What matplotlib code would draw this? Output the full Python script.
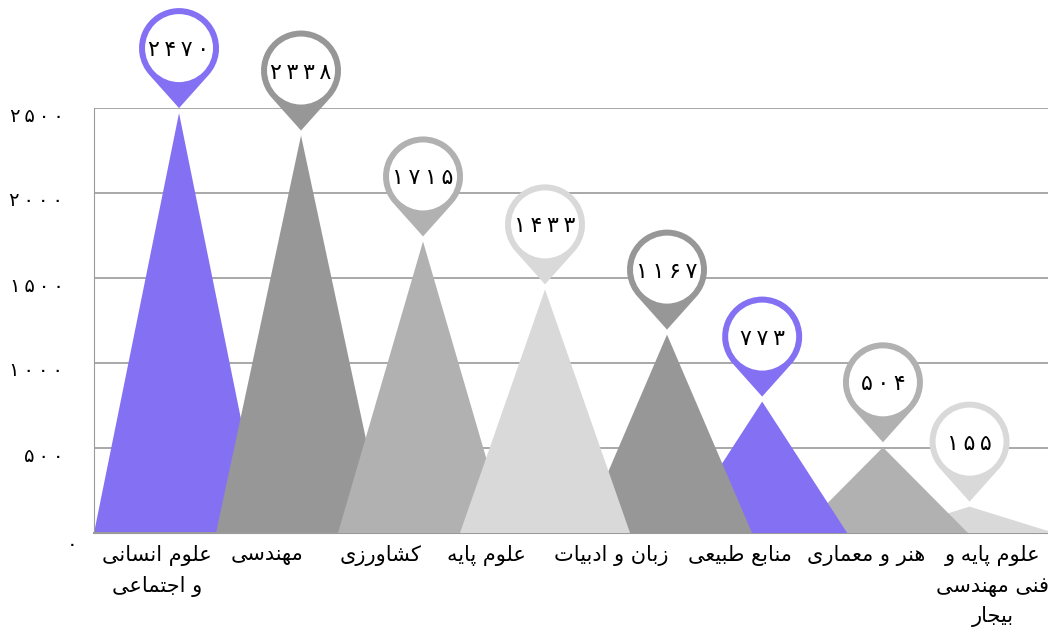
import matplotlib
matplotlib.use('Agg')
import matplotlib.pyplot as plt
import matplotlib.transforms as mtransforms
from matplotlib.path import Path
from matplotlib.patches import PathPatch, Polygon, Circle

# data
categories = ['علوم انسانی\nو اجتماعی', 'مهندسی', 'کشاورزی', 'علوم پایه',
              'زبان و ادبیات', 'منابع طبیعی', 'هنر و معماری',
              'علوم پایه و\nفنی مهندسی\nبیجار']
values = [2470, 2338, 1715, 1433, 1167, 773, 504, 155]
y_ticks = [0, 500, 1000, 1500, 2000, 2500]

# style / layout
purple, dark, mid, light = '#8470F3', '#979797', '#B1B1B1', '#D9D9D9'
colors = [purple, dark, mid, light, dark, purple, mid, light]
layers = [1, 2, 3, 8, 7, 6, 5, 4]
peak_shift = [0, 0, 0, 0, 0, -0.22, -0.23, -0.52]
label_shift = [-0.18, -0.28, -0.35, -0.48, -0.46, -0.40, -0.37, -0.33]
half_width = 0.697

# minimal persian shaping (matplotlib does no arabic joining / rtl)
FORMS = {
    'ا': ('\uFE8D', '\uFE8E', None, None),
    'ب': ('\uFE8F', '\uFE90', '\uFE91', '\uFE92'),
    'پ': ('\uFB56', '\uFB57', '\uFB58', '\uFB59'),
    'ت': ('\uFE95', '\uFE96', '\uFE97', '\uFE98'),
    'ج': ('\uFE9D', '\uFE9E', '\uFE9F', '\uFEA0'),
    'د': ('\uFEA9', '\uFEAA', None, None),
    'ر': ('\uFEAD', '\uFEAE', None, None),
    'ز': ('\uFEAF', '\uFEB0', None, None),
    'س': ('\uFEB1', '\uFEB2', '\uFEB3', '\uFEB4'),
    'ش': ('\uFEB5', '\uFEB6', '\uFEB7', '\uFEB8'),
    'ط': ('\uFEC1', '\uFEC2', '\uFEC3', '\uFEC4'),
    'ع': ('\uFEC9', '\uFECA', '\uFECB', '\uFECC'),
    'ف': ('\uFED1', '\uFED2', '\uFED3', '\uFED4'),
    'ک': ('\uFB8E', '\uFB8F', '\uFB90', '\uFB91'),
    'ل': ('\uFEDD', '\uFEDE', '\uFEDF', '\uFEE0'),
    'م': ('\uFEE1', '\uFEE2', '\uFEE3', '\uFEE4'),
    'ن': ('\uFEE5', '\uFEE6', '\uFEE7', '\uFEE8'),
    'ه': ('\uFEE9', '\uFEEA', '\uFEEB', '\uFEEC'),
    'و': ('\uFEED', '\uFEEE', None, None),
    'ی': ('\uFBFC', '\uFBFD', '\uFBFE', '\uFBFF'),
}


def shape_line(line):
    out = []
    for i, c in enumerate(line):
        if c not in FORMS:
            out.append(c)
            continue
        prev = line[i - 1] if i > 0 else ''
        nxt = line[i + 1] if i + 1 < len(line) else ''
        join_prev = prev in FORMS and FORMS[prev][2] is not None
        join_next = nxt in FORMS and FORMS[c][2] is not None
        iso, fin, ini, med = FORMS[c]
        if join_prev and join_next:
            out.append(med)
        elif join_prev:
            out.append(fin)
        elif join_next:
            out.append(ini)
        else:
            out.append(iso)
    return ''.join(out)[::-1]


def fa(text):
    return '\n'.join(shape_line(l) for l in text.split('\n'))


def fa_num(n):
    # persian digits, spaced out a little like the original font
    return '\u2009'.join(str(n).translate(str.maketrans('0123456789', '۰۱۲۳۴۵۶۷۸۹')))


plt.rcParams['font.family'] = ['DejaVu Sans']

fig = plt.figure(figsize=(10.48, 6.29), dpi=100)
ax = fig.add_axes([94 / 1048, 96 / 629, 954 / 1048, 425 / 629])
ax.set_xlim(-half_width, 7.123)
ax.set_ylim(0, 2500)

ax.set_yticks(y_ticks)
ax.set_yticklabels([fa_num(t) for t in y_ticks], fontsize=14)
ax.tick_params(axis='y', length=0, pad=22)
ax.set_xticks([])
ax.grid(axis='y', color='#9A9A9A', linewidth=1.2, zorder=0)
ax.set_axisbelow(True)
for side in ['top', 'right']:
    ax.spines[side].set_visible(False)
ax.spines['left'].set_color('#9A9A9A')
ax.spines['bottom'].set_color('#9A9A9A')
ax.spines['bottom'].set_linewidth(1.5)

down = mtransforms.ScaledTranslation(0, -6 / 100, fig.dpi_scale_trans)
for lab in ax.get_yticklabels():
    lab.set_transform(lab.get_transform() + down)
zero_lab = ax.get_yticklabels()[0]
zero_lab.set_transform(zero_lab.get_transform() +
                       mtransforms.ScaledTranslation(14 / 100, -3 / 100, fig.dpi_scale_trans))

# pin shape in pixels, tip at origin
R, r_in, cy = 40, 34, 60
arc = Path.arc(-41.81, 221.81)
verts = [(vx * R, vy * R + cy) for vx, vy in arc.vertices] + [(0, 0), (0, 0)]
codes = list(arc.codes) + [Path.LINETO, Path.CLOSEPOLY]
pin_path = Path(verts, codes)

px = mtransforms.Affine2D().scale(1 / 100) + fig.dpi_scale_trans

for i, v in enumerate(values):
    x = i + peak_shift[i]
    tri = Polygon([(x - half_width, 0), (x, v), (x + half_width, 0)],
                  closed=True, facecolor=colors[i], edgecolor='none', zorder=layers[i])
    ax.add_patch(tri)

    at = px + mtransforms.ScaledTranslation(x, v, ax.transData) + \
        mtransforms.ScaledTranslation(0, 5 / 100, fig.dpi_scale_trans)
    ax.add_patch(PathPatch(pin_path, facecolor=colors[i], edgecolor='none',
                           transform=at, clip_on=False, zorder=20))
    ax.add_patch(Circle((0, cy), r_in, facecolor='white', edgecolor='none',
                        transform=at, clip_on=False, zorder=21))
    ax.annotate(fa_num(v), xy=(x, v), xytext=(0, 3 + cy), textcoords='offset pixels',
                ha='center', va='center', fontsize=16, color='black',
                zorder=22, annotation_clip=False)

for i, name in enumerate(categories):
    ax.annotate(fa(name), xy=(i + label_shift[i], 0), xycoords=('data', 'axes fraction'),
                xytext=(0, -12), textcoords='offset pixels', ha='center', va='top',
                fontsize=15, linespacing=1.6, color='black', annotation_clip=False)

fig.savefig('out.png', dpi=100)
